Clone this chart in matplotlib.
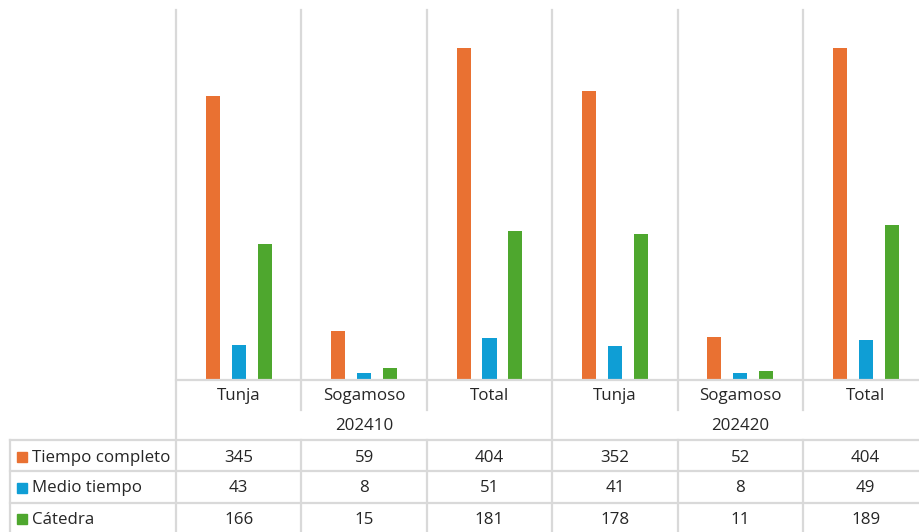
import matplotlib.pyplot as plt
from matplotlib.transforms import blended_transform_factory
import numpy as np

# =============================================================================
# DATA
# =============================================================================
years      = ["202410", "202420"]
categories = ["Tunja", "Sogamoso", "Total", "Tunja", "Sogamoso", "Total"]
series     = ["Tiempo completo", "Medio tiempo", "Cátedra"]

tiempo_completo = [345, 59, 404, 352, 52, 404]
medio_tiempo    = [43, 8, 51, 41, 8, 49]
catedra         = [166, 15, 181, 178, 11, 189]

values = [tiempo_completo, medio_tiempo, catedra]
colors = ["#E97132", "#0F9ED5", "#4EA72E"]

GRID  = "#d9d9d9"
TEXT  = "#262626"
FONT  = "Open Sans"
FS    = 12.2

W, H = 919, 532
fig = plt.figure(figsize=(W / 100, H / 100), dpi=100)

# plot area in pixels (from top-left): x 176 -> 928, y 10 -> 380
col_w = 125.4
x0, ytop, ybase = 176, 10, 380
ax = fig.add_axes([x0 / W, (H - ybase) / H, 6 * col_w / W, (ybase - ytop) / H])
ax.set_xlim(-0.5, 5.5)
ax.set_ylim(0, 450)
ax.axis("off")

x = np.arange(len(categories))
bw, off = 0.112, 0.207
for k, (vals, c) in enumerate(zip(values, colors)):
    ax.bar(x + (k - 1) * off, vals, width=bw, color=c, zorder=2)

# figure-level helpers in pixel coords (y from top)
def fy(py):
    return (H - py) / H

tr = blended_transform_factory(ax.transData, fig.transFigure)
trf = fig.transFigure

def hline(xa, xb, py, transform=trf):
    fig.add_artist(plt.Line2D([xa, xb], [fy(py), fy(py)], color=GRID, lw=1.6,
                              transform=transform, zorder=1))

def vline_px(px, ya, yb):
    fig.add_artist(plt.Line2D([px / W, px / W], [fy(ya), fy(yb)], color=GRID, lw=1.6,
                              transform=trf, zorder=1))

def vline_dat(xd, ya, yb):
    fig.add_artist(plt.Line2D([xd, xd], [fy(ya), fy(yb)], color=GRID, lw=1.6,
                              transform=tr, zorder=1))

# vertical separators
for b in np.arange(-0.5, 6.0, 1.0):
    if b in (-0.5, 2.5, 5.5):
        vline_dat(b, ytop, H)
    else:
        vline_dat(b, ytop, 410)
        vline_dat(b, 440, H)

# baseline and table rows
hline(-0.5, 5.5, ybase, tr)
row_y = [440, 471, 503]
for py in row_y:
    hline(10 / W, 1.0, py)
vline_px(10, 440, H)

# category labels
for i, cat in enumerate(categories):
    fig.text(i, fy(396.5), cat, transform=tr, ha="center", va="center",
             fontsize=FS, color=TEXT, family=FONT)

# year labels
for j, yr in enumerate(years):
    fig.text(3 * j + 1, fy(425.5), yr, transform=tr, ha="center", va="center",
             fontsize=FS, color=TEXT, family=FONT)

# data rows
row_c = [457.5, 488.5, 519.5]
for name, vals, c, py in zip(series, values, colors, row_c):
    fig.add_artist(plt.Rectangle((17 / W, fy(py + 4)), 10 / W, 10 / H,
                                 color=c, transform=trf))
    fig.text(32 / W, fy(py), name, ha="left", va="center",
             fontsize=FS, color=TEXT, family=FONT)
    for i, v in enumerate(vals):
        fig.text(i, fy(py), str(v), transform=tr, ha="center", va="center",
                 fontsize=FS, color=TEXT, family=FONT)

fig.savefig("out.png", dpi=100)
